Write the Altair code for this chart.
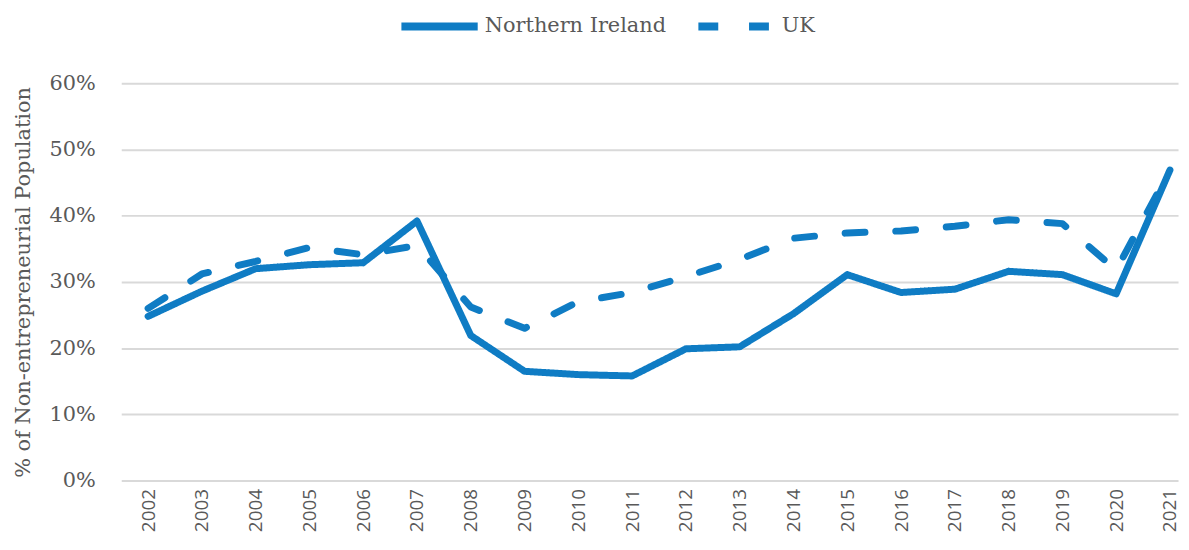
import altair as alt
import pandas as pd

years = list(range(2002, 2022))
northern_ireland = [24.8, 28.6, 32.0, 32.6, 32.9, 39.2, 21.9, 16.5, 16.0, 15.8,
                    19.9, 20.2, 25.2, 31.1, 28.4, 28.9, 31.6, 31.1, 28.2, 46.9]
uk = [26.0, 31.2, 33.1, 35.2, 34.1, 35.5, 26.2, 23.0, 27.0, 28.4,
      30.8, 33.4, 36.6, 37.4, 37.7, 38.4, 39.4, 38.8, 31.8, 46.9]
series_names = ["Northern Ireland", "UK"]
y_ticks = [0, 10, 20, 30, 40, 50, 60]

rows = []
for name, vals in zip(series_names, [northern_ireland, uk]):
    for yr, v in zip(years, vals):
        rows.append({"Year": yr, "Value": v, "Series": name})
df = pd.DataFrame(rows)

BLUE = "#0f7cc4"
GREY = "#595959"
SERIF = "DejaVu Serif"

chart = alt.Chart(df).mark_line(
    strokeWidth=7, strokeCap="round", strokeJoin="round"
).encode(
    x=alt.X("Year:Q",
            scale=alt.Scale(domain=[2001.5, 2021.15], nice=False, zero=False),
            axis=alt.Axis(values=years, format="d", labelAngle=-90,
                          labelFont="Open Sans", labelFontSize=19,
                          labelColor=GREY, labelPadding=8, ticks=False,
                          domain=False, grid=False, title=None,
                          labelAlign="right", labelBaseline="middle")),
    y=alt.Y("Value:Q",
            scale=alt.Scale(domain=[0, 60], nice=False),
            axis=alt.Axis(values=y_ticks, labelExpr="datum.value + '%'",
                          labelFont=SERIF, labelFontSize=21, labelColor=GREY,
                          labelPadding=26, ticks=False, domain=False,
                          gridColor="#d9d9d9", gridWidth=2,
                          title="% of Non-entrepreneurial Population",
                          titleFont=SERIF, titleFontSize=21,
                          titleFontWeight="normal", titleColor=GREY,
                          titlePadding=16)),
    color=alt.Color("Series:N",
                    scale=alt.Scale(domain=series_names, range=[BLUE, BLUE]),
                    legend=alt.Legend(title=None, orient="none",
                                      legendX=278, legendY=-100,
                                      direction="horizontal",
                                      symbolType="stroke",
                                      symbolSize=5900, symbolStrokeWidth=8,
                                      labelFont=SERIF, labelFontSize=21,
                                      labelColor=GREY, labelOffset=3,
                                      labelLimit=0, columnPadding=16)),
    strokeDash=alt.StrokeDash("Series:N",
                              scale=alt.Scale(domain=series_names,
                                              range=[[1, 0], [20, 31]]),
                              legend=None),
).properties(
    width=1064, height=400,
    autosize=alt.AutoSizeParams(type="none"),
    padding={"left": 114, "top": 74, "right": 3, "bottom": 52},
).configure_view(stroke=None)

chart.save("out.html", embed_options={"renderer": "svg", "actions": False})
